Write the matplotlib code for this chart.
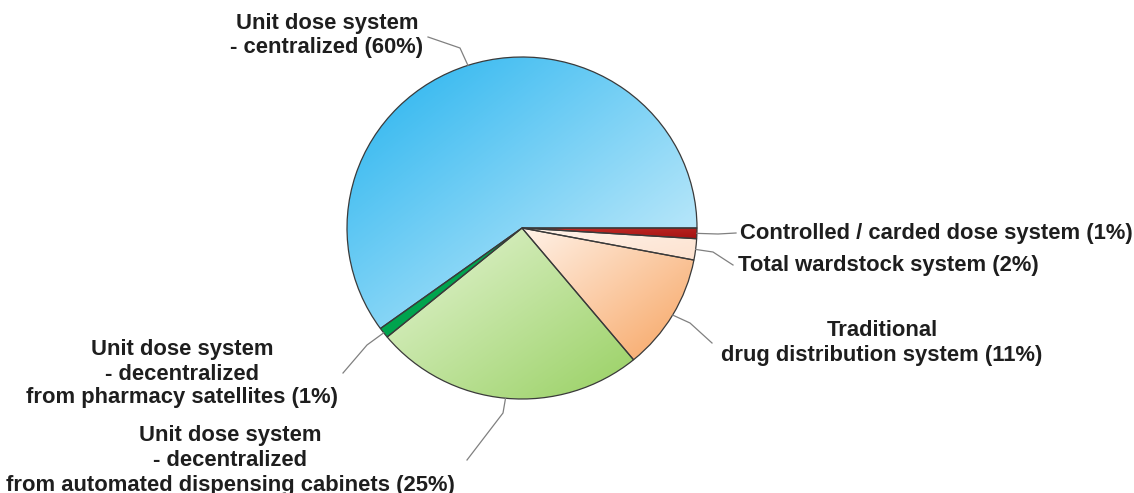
import numpy as np
import matplotlib
matplotlib.use("Agg")
import matplotlib.pyplot as plt
from matplotlib.colors import LinearSegmentedColormap

# Drug distribution systems, share of hospitals (%), clockwise from 3 o'clock
labels = [
    ["Controlled / carded dose system (1%)"],
    ["Total wardstock system (2%)"],
    ["Traditional", "drug distribution system (11%)"],
    ["Unit dose system", "- decentralized", "from automated dispensing cabinets (25%)"],
    ["Unit dose system", "- decentralized", "from pharmacy satellites (1%)"],
    ["Unit dose system", "- centralized (60%)"],
]
shares = [1, 2, 11, 25, 1, 60]

# gradient end colours per slice: (upper-left, lower-right)
grad_colors = [
    ("#c62f2a", "#a31212"),
    ("#fff3ea", "#fde2cf"),
    ("#fff2e8", "#f7a461"),
    ("#e6f5d6", "#98d062"),
    ("#00ad55", "#009a48"),
    ("#22b2ef", "#d8f2fc"),
]

W, H = 1134, 493
cx, cy, rx, ry = 522, 228, 175, 171

fig = plt.figure(figsize=(W / 100, H / 100), dpi=100)
fig.patch.set_facecolor("white")

ax = fig.add_axes([(cx - rx) / W, (H - cy - ry) / H, 2 * rx / W, 2 * ry / H])
wedges, _ = ax.pie(shares, startangle=0, counterclock=False, radius=1,
                   wedgeprops=dict(linewidth=0.9, edgecolor="#3a3a3a"))
ax.set_aspect("auto")

# fill each slice with a diagonal gradient clipped to its outline
for w, (c0, c1) in zip(wedges, grad_colors):
    verts = w.get_patch_transform().transform(w.get_path().vertices)
    x0, y0 = verts.min(axis=0)
    x1, y1 = verts.max(axis=0)
    gx, gy = np.meshgrid(np.linspace(0, 1, 200), np.linspace(0, 1, 200))
    t = (gx + gy) / 2  # 0 at upper-left, 1 at lower-right (origin upper)
    cmap = LinearSegmentedColormap.from_list("g", [c0, c1])
    im = ax.imshow(t, cmap=cmap, extent=(x0, x1, y0, y1), origin="upper",
                   aspect="auto", zorder=1, interpolation="bilinear")
    im.set_clip_path(w)
    w.set_facecolor("none")
    w.set_zorder(2)
ax.set_xlim(-1, 1)
ax.set_ylim(-1, 1)

# overlay in pixel coordinates for leaders and labels
ov = fig.add_axes([0, 0, 1, 1], facecolor="none")
ov.set_xlim(0, W)
ov.set_ylim(H, 0)
ov.axis("off")

cum = np.cumsum([0] + shares)
mids = np.deg2rad((cum[:-1] + cum[1:]) / 2 / 100 * 360)

# elbow and end of each leader line
leaders = [
    [(718, 234), (736, 233)],
    [(713, 252), (733, 265)],
    [(690, 323), (712, 343)],
    [(503, 413), (467, 460)],
    [(367, 345), (343, 373)],
    [(460, 48), (428, 37)],
]
for m, pts in zip(mids, leaders):
    sx = cx + rx * np.cos(m)
    sy = cy + ry * np.sin(m)
    xs = [sx] + [p[0] for p in pts]
    ys = [sy] + [p[1] for p in pts]
    ov.plot(xs, ys, color="#808080", lw=0.9)

font = dict(family="Liberation Sans", fontweight="bold", fontsize=15.8, color="#1e1e1e")

# text anchor: (x, first line y, line step, horizontal alignment)
placements = [
    (740, 233, 24, "left"),
    (738, 266, 24, "left"),
    (882, 331, 24.5, "center"),
    (230, 436, 24.5, "center"),
    (182, 350, 24, "center"),
    (327, 24, 24, "center"),
]
for lines, (x, y, step, ha) in zip(labels, placements):
    for i, line in enumerate(lines):
        ov.text(x, y + i * step, line, ha=ha, va="center", **font)

fig.savefig("out.png", dpi=100)
